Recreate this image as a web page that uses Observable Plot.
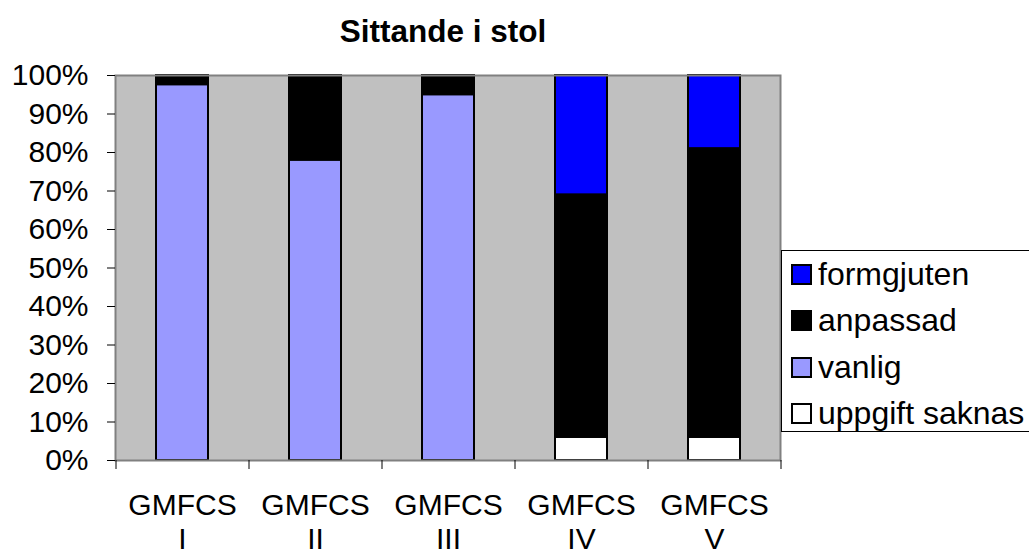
<!DOCTYPE html>
<html>
<head>
<meta charset="utf-8">
<script src="https://cdn.jsdelivr.net/npm/d3@7"></script>
<script src="https://cdn.jsdelivr.net/npm/@observablehq/plot@0.6"></script>
<style>
  html, body { margin: 0; padding: 0; background: #fff; }
  #wrap { position: relative; width: 1029px; height: 556px; overflow: hidden; font-family: "Liberation Sans", Arial, sans-serif; }
  #title { position: absolute; left: 443px; top: 16px; transform: translateX(-50%); font-size: 31.5px; line-height: 31.5px; font-weight: bold; white-space: nowrap; }
  #legend { position: absolute; left: 781px; top: 250px; width: 260px; height: 182px; border: 1px solid #000; background: #fff; box-sizing: border-box; }
  .item { position: absolute; left: 9px; height: 32px; display: flex; align-items: center; font-size: 32px; white-space: nowrap; }
  .sw { width: 17px; height: 17px; border: 2px solid #000; margin-right: 6px; box-sizing: content-box; }
  #chart { position: absolute; left: 0; top: 0; }
</style>
</head>
<body>
<div id="wrap">
  <div id="chart"></div>
  <div id="title">Sittande i stol</div>
  <div id="legend"></div>
</div>
<script>
const categories = ["GMFCS I", "GMFCS II", "GMFCS III", "GMFCS IV", "GMFCS V"];
const xLabels = ["GMFCS\nI", "GMFCS\nII", "GMFCS\nIII", "GMFCS\nIV", "GMFCS\nV"];
const series = ["uppgift saknas", "vanlig", "anpassad", "formgjuten"];
const colors = ["#ffffff", "#9999ff", "#000000", "#0000ff"];
const uppgiftSaknas = [0, 0, 0, 6, 6];
const vanlig = [97.6, 78, 95, 0, 0];
const anpassad = [2.4, 22, 5, 63, 75];
const formgjuten = [0, 0, 0, 31, 19];
const legendOrder = ["formgjuten", "anpassad", "vanlig", "uppgift saknas"];
const yTicks = [0, 10, 20, 30, 40, 50, 60, 70, 80, 90, 100];

const valuesBySeries = [uppgiftSaknas, vanlig, anpassad, formgjuten];
const table = [];
categories.forEach((c, i) => {
  series.forEach((s, j) => {
    const v = valuesBySeries[j][i];
    if (v > 0) table.push({cat: c, series: s, value: v});
  });
});

const W = 1029, H = 556, mL = 115, mR = 249, mT = 75, mB = 96;
const step = (W - mL - mR) / categories.length;
const frameH = H - mT - mB;

const chart = Plot.plot({
  width: W, height: H,
  marginTop: mT, marginBottom: mB, marginLeft: mL, marginRight: mR,
  style: {fontFamily: "'Liberation Sans', Arial, sans-serif", fontSize: "30px", color: "#000", background: "transparent"},
  x: {domain: categories, paddingInner: 0.61, paddingOuter: 0.305, axis: null, label: null},
  y: {domain: [0, 100], axis: null, label: null},
  color: {domain: series, range: colors},
  marks: [
    Plot.frame({fill: "#c0c0c0"}),
    Plot.barY(table, {x: "cat", y: "value", fill: "series", stroke: "#000", strokeWidth: 2, order: series}),
    Plot.frame({stroke: "#808080", strokeWidth: 2}),
    Plot.axisY({ticks: yTicks, tickFormat: d => d + "%", tickSize: 8, tickPadding: 19, fontSize: 30, stroke: "#000", label: null}),
    Plot.axisX({tickSize: 0, tickPadding: 31, tickFormat: d => xLabels[categories.indexOf(d)], lineHeight: 1.12, fontSize: 30, label: null}),
    Plot.ruleX(categories, {x: d => d, dx: -step / 2, insetTop: frameH, insetBottom: -9, stroke: "#000"}),
    Plot.ruleX(categories.slice(-1), {x: d => d, dx: step / 2, insetTop: frameH, insetBottom: -9, stroke: "#000"})
  ]
});
document.getElementById("chart").appendChild(chart);

const legend = document.getElementById("legend");
const rowCenters = [23, 69, 116, 162];
legendOrder.forEach((s, i) => {
  const it = document.createElement("div");
  it.className = "item";
  it.style.top = (rowCenters[i] - 16) + "px";
  const sw = document.createElement("div");
  sw.className = "sw";
  sw.style.background = colors[series.indexOf(s)];
  const t = document.createElement("span");
  t.textContent = s;
  it.appendChild(sw);
  it.appendChild(t);
  legend.appendChild(it);
});
</script>
</body>
</html>
